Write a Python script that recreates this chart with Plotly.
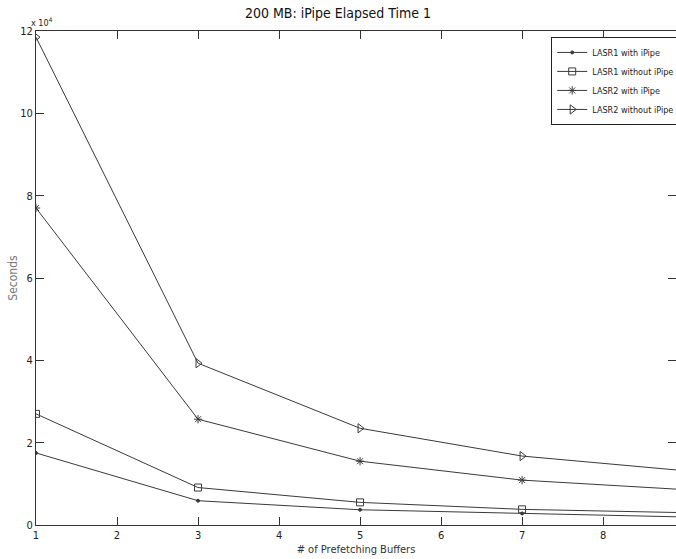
import plotly.graph_objects as go

buffers = [1, 3, 5, 7, 9]
lasr1_with = [17500, 5900, 3700, 2800, 1950]
lasr1_without = [27000, 9100, 5500, 3800, 3000]
lasr2_with = [77000, 25700, 15500, 10900, 8600]
lasr2_without = [118500, 39300, 23500, 16750, 13200]

series_names = ["LASR1 with iPipe", "LASR1 without iPipe", "LASR2 with iPipe", "LASR2 without iPipe"]
series_vals = [lasr1_with, lasr1_without, lasr2_with, lasr2_without]
symbols = ["circle", "square-open", "asterisk-open", "triangle-right-open"]
sizes = [3, 7, 7, 8]

y_tickvals = [0, 20000, 40000, 60000, 80000, 100000, 120000]
y_ticktext = ["0", "2", "4", "6", "8", "10", "12"]
x_tickvals = [1, 2, 3, 4, 5, 6, 7, 8]

FONT = "Liberation Sans Narrow, DejaVu Sans Condensed, Liberation Sans, Arial"
LINE = "#3a3a3a"

fig = go.Figure()
for name, vals, sym, sz in zip(series_names, series_vals, symbols, sizes):
    fig.add_trace(go.Scatter(
        x=buffers, y=vals, name=name, mode="lines+markers",
        line=dict(color=LINE, width=1),
        marker=dict(symbol=sym, size=sz, color=LINE, line=dict(color=LINE, width=1)),
    ))

fig.update_layout(
    width=676, height=559,
    margin=dict(l=36, r=0, t=31, b=34, autoexpand=False),
    paper_bgcolor="white", plot_bgcolor="white",
    font=dict(family=FONT, size=11, color="#222"),
    title=dict(text="200 MB: iPipe Elapsed Time 1", x=0.5, xanchor="center",
               y=0.985, yanchor="top", font=dict(family=FONT, size=14, color="#111")),
    showlegend=True,
    legend=dict(x=0.805, xanchor="left", y=0.988, yanchor="top",
                bgcolor="white", bordercolor="#222", borderwidth=1,
                font=dict(family=FONT, size=9, color="#222"),
                tracegroupgap=0, itemwidth=30),
    xaxis=dict(range=[1, 8.9], tickvals=x_tickvals, ticks="inside", ticklen=8,
               tickcolor="#333", showline=True, linecolor="#333", linewidth=1,
               mirror="ticks", showgrid=False, zeroline=False,
               title=dict(text="# of Prefetching Buffers", standoff=4,
                          font=dict(family=FONT, size=11, color="#333"))),
    yaxis=dict(range=[0, 120000], tickvals=y_tickvals, ticktext=y_ticktext,
               ticks="inside", ticklen=8, tickcolor="#333", showline=True,
               linecolor="#333", linewidth=1, mirror="ticks", showgrid=False,
               zeroline=False,
               title=dict(text="Seconds", standoff=0,
                          font=dict(family=FONT, size=12, color="#777"))),
)

fig.add_annotation(text="x 10<sup>4</sup>", xref="paper", yref="paper",
                   x=0.0, y=1.0, xanchor="left", yanchor="bottom", showarrow=False,
                   font=dict(family=FONT, size=9, color="#222"), yshift=1, xshift=-7)

fig.write_html("out.html")
